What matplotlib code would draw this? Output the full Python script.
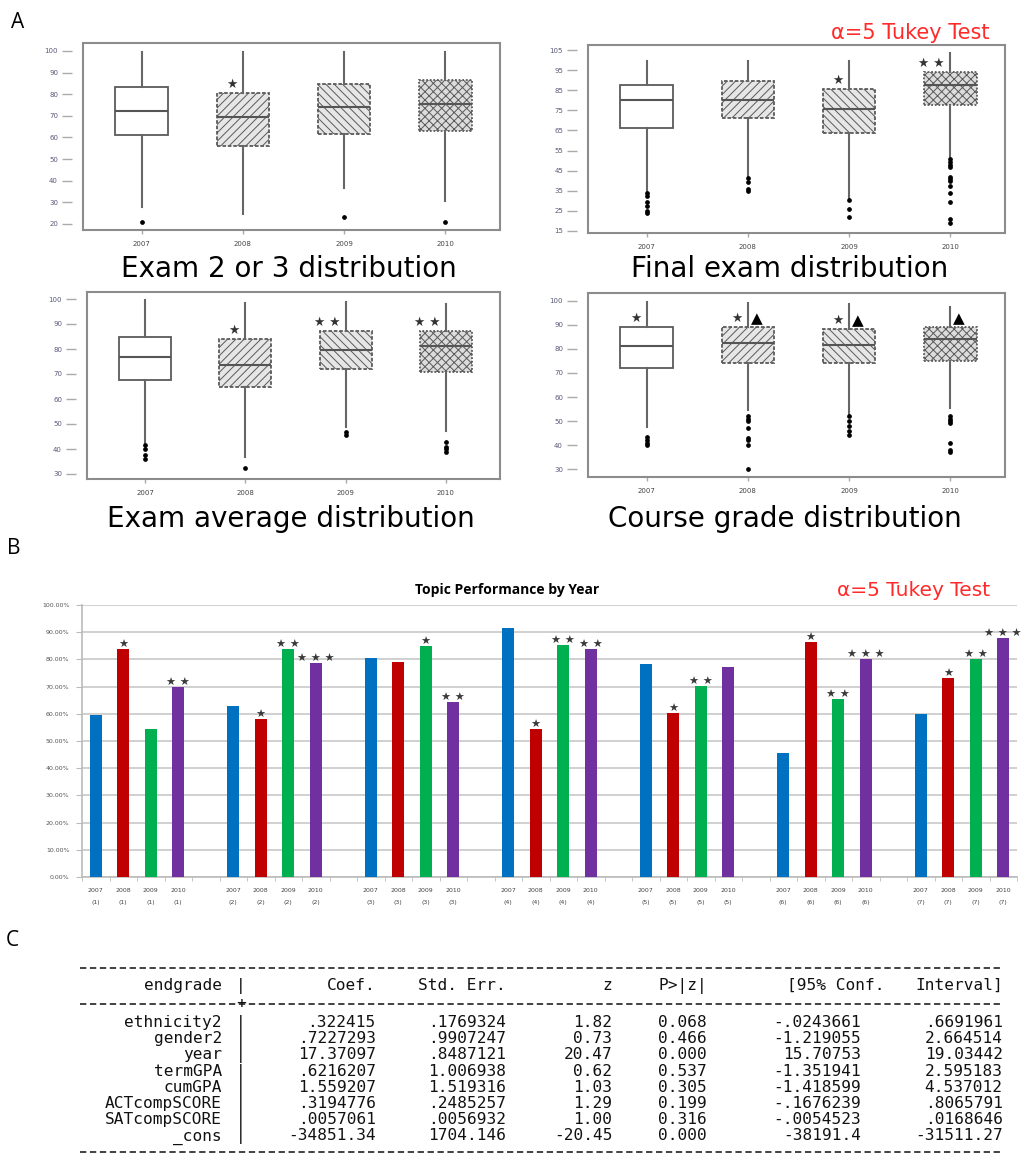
import matplotlib.pyplot as plt

plt.rcParams['hatch.linewidth'] = 0.7

W, H = 1021, 1157
years = ["2007", "2008", "2009", "2010"]

# Panel A: box statistics
exam23_q1 = [61.2, 56.0, 61.6, 63.0]
exam23_med = [72.2, 69.5, 74.1, 75.5]
exam23_q3 = [83.4, 80.6, 84.7, 86.6]
exam23_lo = [27.9, 24.6, 36.6, 30.6]
exam23_hi = [99.5, 99.5, 99.5, 99.5]
exam23_out = [[21], [], [23], [21]]
exam23_stars = ["", "★", "", ""]
exam23_tri = [False, False, False, False]

final_q1 = [66.2, 71.2, 63.7, 77.6]
final_med = [80.1, 80.1, 75.7, 87.6]
final_q3 = [87.6, 89.6, 85.6, 94.0]
final_lo = [35.0, 42.0, 31.4, 51.8]
final_hi = [99.5, 99.5, 99.5, 103.5]
final_out = [[34, 32.5, 29.5, 27.5, 25, 24], [41.5, 39.5, 36, 35], [30.5, 26, 22],
             [51, 49.5, 48, 47, 42, 41, 40, 37.5, 34, 29.5, 21, 19]]
final_stars = ["", "", "★", "★ ★"]
final_tri = [False, False, False, False]

avg_q1 = [67.6, 64.8, 72.0, 70.8]
avg_med = [76.8, 73.6, 79.6, 81.2]
avg_q3 = [84.8, 84.0, 87.2, 87.2]
avg_lo = [42.4, 36.8, 48.8, 47.2]
avg_hi = [99.6, 98.4, 98.8, 98.0]
avg_out = [[41.5, 40, 37.5, 36], [32.4], [46.8, 45.5], [43, 41, 40, 39]]
avg_stars = ["", "★", "★ ★", "★ ★"]
avg_tri = [False, False, False, False]

course_q1 = [72.1, 74.2, 74.2, 75.0]
course_med = [81.25, 82.5, 81.7, 84.2]
course_q3 = [89.2, 89.2, 88.3, 89.2]
course_lo = [47.5, 54.6, 52.5, 55.4]
course_hi = [99.6, 99.2, 98.7, 97.5]
course_out = [[43.3, 42, 41, 40], [52, 51, 50, 47, 43, 42, 40, 30],
              [52, 50, 48, 46, 44], [52, 51, 50, 49, 41, 38, 37]]
course_stars = ["★", "★", "★", ""]
course_tri = [False, True, True, True]

# Panel B: topic performance (%) per year
topics = [1, 2, 3, 4, 5, 6, 7]
perf_2007 = [59.6, 62.9, 80.5, 91.5, 78.3, 45.6, 59.9]
perf_2008 = [83.8, 58.1, 79.0, 54.4, 60.3, 86.4, 73.2]
perf_2009 = [54.4, 83.8, 84.9, 85.3, 70.2, 65.4, 80.1]
perf_2010 = [69.9, 78.7, 64.3, 83.8, 77.2, 80.1, 87.9]
stars_2007 = ["", "", "", "", "", "", ""]
stars_2008 = ["★", "★", "", "★", "★", "★", "★"]
stars_2009 = ["", "★ ★", "★", "★ ★", "★ ★", "★ ★", "★ ★"]
stars_2010 = ["★ ★", "★ ★ ★", "★ ★", "★ ★", "", "★ ★ ★", "★ ★ ★"]

# Panel C: regression output
reg_vars = ["ethnicity2", "gender2", "year", "termGPA", "cumGPA", "ACTcompSCORE", "SATcompSCORE", "_cons"]
reg_coef = [".322415", ".7227293", "17.37097", ".6216207", "1.559207", ".3194776", ".0057061", "-34851.34"]
reg_se = [".1769324", ".9907247", ".8487121", "1.006938", "1.519316", ".2485257", ".0056932", "1704.146"]
reg_z = ["1.82", "0.73", "20.47", "0.62", "1.03", "1.29", "1.00", "-20.45"]
reg_p = ["0.068", "0.466", "0.000", "0.537", "0.305", "0.199", "0.316", "0.000"]
reg_lo = ["-.0243661", "-1.219055", "15.70753", "-1.351941", "-1.418599", "-.1676239", "-.0054523", "-38191.4"]
reg_hi = [".6691961", "2.664514", "19.03442", "2.595183", "4.537012", ".8065791", ".0168646", "-31511.27"]
reg_header = ["endgrade", "Coef.", "Std. Err.", "z", "P>|z|", "[95% Conf.", "Interval]"]

fig = plt.figure(figsize=(W / 100, H / 100), dpi=100)


def px_axes(left, top, right, bottom):
    return fig.add_axes([left / W, 1 - bottom / H, (right - left) / W, (bottom - top) / H])


box_face = ['white', '#e6e6e6', '#e6e6e6', '#dcdcdc']
box_hatch = ['', '////', '\\\\\\\\', 'xxxx']
box_ls = ['-', (0, (2, 1)), (0, (2, 1)), (0, (1, 1))]
frame_col = '#8c8c8c'


def box_panel(ax, q1, med, q3, lo, hi, out, stars, tri, yticks, ylim):
    stats = [dict(q1=q1[i], med=med[i], q3=q3[i], whislo=lo[i], whishi=hi[i], fliers=out[i])
             for i in range(4)]
    res = ax.bxp(stats, positions=[1, 2, 3, 4], widths=0.52, patch_artist=True, showcaps=False,
                 whiskerprops=dict(color='#666666', lw=1.5),
                 medianprops=dict(color='#555555', lw=1.5),
                 flierprops=dict(marker='o', markersize=2.4, markerfacecolor='black',
                                 markeredgecolor='black'))
    for patch, fc, hat, ls in zip(res['boxes'], box_face, box_hatch, box_ls):
        patch.set_facecolor(fc)
        patch.set_edgecolor('#5a5a5a')
        patch.set_hatch(hat)
        patch.set_linestyle(ls)
        patch.set_linewidth(1.3)
    for i in range(4):
        if stars[i]:
            ax.annotate(stars[i], (i + 1, q3[i]), xytext=(-4, 6), textcoords='offset points',
                        ha='right', va='center', fontsize=9, color='#333333')
        if tri[i]:
            ax.annotate("▲", (i + 1, q3[i]), xytext=(2, 6), textcoords='offset points',
                        ha='left', va='center', fontsize=11, color='black')
    ax.set_xlim(0.42, 4.54)
    ax.set_ylim(*ylim)
    ax.set_yticks(yticks)
    ax.set_xticks([1, 2, 3, 4])
    ax.set_xticklabels(years)
    ax.tick_params(axis='y', direction='out', length=7, width=1, color='#aaaaaa',
                   labelsize=5, labelcolor='#5a5a7a', pad=3)
    ax.tick_params(axis='x', direction='out', length=3, width=1, color='#aaaaaa',
                   labelsize=5, labelcolor='#444444', pad=5)
    for s in ['top', 'right', 'bottom']:
        ax.spines[s].set_color(frame_col)
        ax.spines[s].set_linewidth(1.5)
    ax.spines['left'].set_position(('outward', 8))
    ax.spines['left'].set_visible(False)
    ax.plot([0, 0], [0, 1], transform=ax.transAxes, color=frame_col, lw=1.5, clip_on=False)


ax1 = px_axes(83, 43, 500, 230)
box_panel(ax1, exam23_q1, exam23_med, exam23_q3, exam23_lo, exam23_hi, exam23_out,
          exam23_stars, exam23_tri, range(20, 101, 10), (17.2, 103.7))
ax2 = px_axes(588, 45, 1005, 233)
box_panel(ax2, final_q1, final_med, final_q3, final_lo, final_hi, final_out,
          final_stars, final_tri, range(15, 106, 10), (14, 107.5))
ax3 = px_axes(87, 292, 500, 479)
box_panel(ax3, avg_q1, avg_med, avg_q3, avg_lo, avg_hi, avg_out,
          avg_stars, avg_tri, range(30, 101, 10), (28, 102.8))
ax4 = px_axes(588, 293, 1005, 477)
box_panel(ax4, course_q1, course_med, course_q3, course_lo, course_hi, course_out,
          course_stars, course_tri, range(30, 101, 10), (26.7, 103.3))

# Panel B: bar chart, 4 years per topic with an empty slot between topics
ax5 = px_axes(82, 605, 1017, 877)
bar_cols = ['#0070C0', '#C00000', '#00B050', '#7030A0']
series = [perf_2007, perf_2008, perf_2009, perf_2010]
series_stars = [stars_2007, stars_2008, stars_2009, stars_2010]
xt, xl = [], []
for j, (vals, col, st) in enumerate(zip(series, bar_cols, series_stars)):
    xs = [g * 5 + j for g in range(len(topics))]
    ax5.bar(xs, vals, width=0.44, color=col, zorder=3)
    for x, v, s in zip(xs, vals, st):
        if s:
            ax5.annotate(s, (x, v), xytext=(0, -0.5), textcoords='offset points',
                         ha='center', va='bottom', fontsize=8.1, color='#3a3a3a')
    xt += xs
    xl += [f"{years[j]}\n({t})" for t in topics]
ax5.set_xticks(xt)
ax5.set_xticklabels(xl, fontsize=4.5, color='#444444', linespacing=2.6)
ax5.set_xticks([k + 0.5 for k in range(-1, 34)], minor=True)
ax5.set_xlim(-0.5, 33.5)
ax5.set_ylim(0, 100)
ax5.set_yticks(range(0, 101, 10))
ax5.set_yticklabels([f"{v:.2f}%" for v in range(0, 101, 10)], fontsize=4.5, color='#555555')
ax5.tick_params(axis='x', which='major', length=0, pad=8)
ax5.tick_params(axis='x', which='minor', length=3, color='#bbbbbb')
ax5.tick_params(axis='y', length=4, color='#bbbbbb', pad=5)
ax5.yaxis.grid(True, color='#c8c8c8', lw=1.2)
ax5.set_axisbelow(True)
for s in ['top', 'right']:
    ax5.spines[s].set_visible(False)
for s in ['left', 'bottom']:
    ax5.spines[s].set_color('#bbbbbb')
    ax5.spines[s].set_linewidth(1.2)

# overlay in pixel coordinates for titles, panel letters and the table
ov = fig.add_axes([0, 0, 1, 1])
ov.set_xlim(0, W)
ov.set_ylim(H, 0)
ov.axis('off')

sans = ['Open Sans', 'DejaVu Sans']
ov.text(18, 22, "A", fontsize=15, family=sans, ha='center', va='center')
ov.text(14, 549, "B", fontsize=15, family=sans, ha='center', va='center')
ov.text(12, 940, "C", fontsize=15, family=sans, ha='center', va='center')

ov.text(289, 277, "Exam 2 or 3 distribution", fontsize=20, ha='center', va='baseline')
ov.text(790, 277, "Final exam distribution", fontsize=20, ha='center', va='baseline')
ov.text(291, 527, "Exam average distribution", fontsize=20, ha='center', va='baseline')
ov.text(785, 527, "Course grade distribution", fontsize=20, ha='center', va='baseline')

ov.text(910, 33, "α=5 Tukey Test", fontsize=15, color='#ff2a2a', ha='center', va='center')
ov.text(914, 591, "α=5 Tukey Test", fontsize=14.5, color='#ff2a2a', ha='center', va='center')
ov.text(507, 590, "Topic Performance by Year", fontsize=10, family=sans, weight='bold',
        ha='center', va='center')

# Panel C: Stata-style regression table, monospace cells right-aligned on a character grid
cw = 11.83
x0 = 80
mono = dict(family='DejaVu Sans Mono', fontsize=11.6, ha='right', va='baseline', color='#111111')
col_end = [12, 25, 36, 45, 53, 66, 78]
head_end = [12, 25, 36, 45, 53, 68, 78]
dash = dict(color='#333333', lw=1.3, dashes=(3.5, 2))
ov.plot([x0, x0 + 78 * cw], [968, 968], **dash)
for txt, c in zip(reg_header, head_end):
    ov.text(x0 + c * cw, 990, txt, **mono)
ov.text(x0 + 14 * cw, 990, "|", **mono)
ov.plot([x0, x0 + 78 * cw], [1004, 1004], **dash)
ov.text(x0 + 14 * cw, 1008, "+", **mono)
cols = [reg_vars, reg_coef, reg_se, reg_z, reg_p, reg_lo, reg_hi]
for i in range(len(reg_vars)):
    yb = 1027 + 16.2 * i
    for vals, c in zip(cols, col_end):
        ov.text(x0 + c * cw, yb, vals[i], **mono)
    ov.text(x0 + 14 * cw, yb, "|", **mono)
ov.plot([x0, x0 + 78 * cw], [1152, 1152], **dash)

fig.savefig("out.png", dpi=100)
